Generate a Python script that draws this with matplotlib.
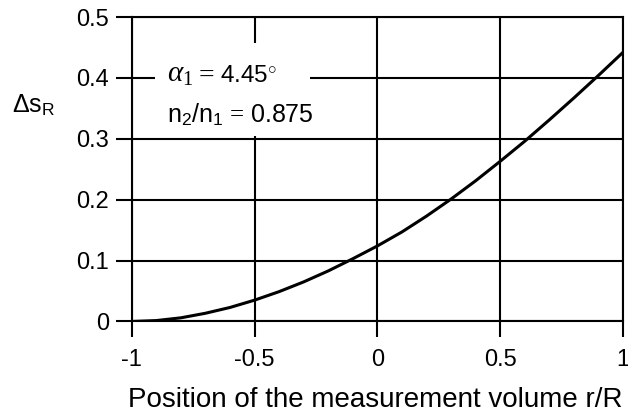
import numpy as np
import matplotlib
matplotlib.use("Agg")
import matplotlib.pyplot as plt
from matplotlib.patches import Rectangle

plt.rcParams['font.family'] = ['Liberation Sans', 'DejaVu Sans']
plt.rcParams['mathtext.fontset'] = 'custom'
plt.rcParams['mathtext.rm'] = 'Liberation Serif'
plt.rcParams['mathtext.it'] = 'Liberation Serif:italic'
plt.rcParams['mathtext.sf'] = 'Liberation Sans'

# curve
r = [-1.0, -0.9, -0.8, -0.7, -0.6, -0.5, -0.4, -0.3, -0.2, -0.1, 0.0,
     0.1, 0.2, 0.3, 0.4, 0.5, 0.6, 0.7, 0.8, 0.9, 1.0]
ds = [0.000, 0.0015, 0.006, 0.0135, 0.023, 0.035, 0.049, 0.065, 0.083, 0.103, 0.124,
      0.147, 0.173, 0.201, 0.231, 0.263, 0.296, 0.331, 0.367, 0.404, 0.442]

xticks = [-1, -0.5, 0, 0.5, 1]
xticklabels = ['-1', '-0.5', '0', '0.5', '1']
yticks = [0, 0.1, 0.2, 0.3, 0.4, 0.5]
yticklabels = ['0', '0.1', '0.2', '0.3', '0.4', '0.5']

fig = plt.figure(figsize=(6.28, 4.12), dpi=100)
ax = fig.add_axes([0.2097, 0.2197, 0.7823, 0.739])

ax.set_xlim(-1, 1)
ax.set_ylim(0, 0.5)
ax.set_xticks(xticks)
ax.set_xticklabels(xticklabels)
ax.set_yticks(yticks)
ax.set_yticklabels(yticklabels)
ax.grid(True, color='black', linewidth=1.5)
ax.set_axisbelow(True)
for s in ax.spines.values():
    s.set_linewidth(1.5)
ax.tick_params(direction='out', length=11.5, width=1.5, labelsize=17)
ax.tick_params(axis='x', pad=8)
ax.tick_params(axis='y', pad=5)

ax.plot(r, ds, color='black', linewidth=2.2, zorder=3)

# white box behind the annotation
ax.add_patch(Rectangle((-0.905, 0.305), 0.63, 0.153, facecolor='white',
                       edgecolor='none', zorder=2))
ax.text(-0.857, 0.393, r'$\alpha_1$', fontsize=21, va='baseline', zorder=4)
ax.text(-0.748, 0.393, r'$=$', fontsize=20, va='baseline', zorder=4)
ax.text(-0.64, 0.393, r'4.45$^{\circ}$', fontsize=17.5, va='baseline', zorder=4)
ax.text(-0.857, 0.3275, r'n$_\mathsf{2}$/n$_\mathsf{1}$$\,=\,$0.875', fontsize=18,
        va='baseline', zorder=4)

fig.text(12 / 628, 1 - 112 / 412, r'Δs$_\mathsf{R}$', fontsize=18, va='baseline', ha='left')
fig.text(375 / 628, 1 - 407 / 412, 'Position of the measurement volume r/R',
         fontsize=20, ha='center', va='baseline')

fig.savefig('out.png', dpi=100)
